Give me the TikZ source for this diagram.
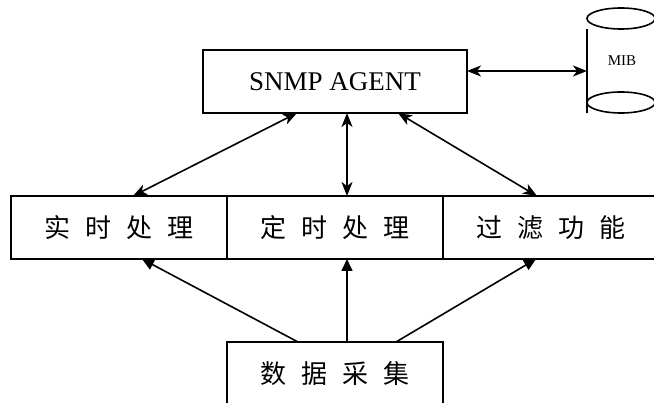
\documentclass[tikz,border=0pt]{standalone}
\usepackage{fontspec}
\setmainfont{Liberation Serif}
\newfontfamily\cjk{Noto Sans CJK SC}
\usetikzlibrary{arrows.meta}
\newcommand{\cjkgap}{\hspace{15pt}}
\begin{document}
\begin{tikzpicture}[x=1pt,y=-1pt,
  line width=1.6pt,
  box/.style={draw, rectangle, inner sep=0pt, outer sep=0pt,
    minimum width=216pt, minimum height=63pt},
  cjklabel/.style={font=\cjk\fontsize{26}{28}\selectfont},
  both/.style={{Stealth[length=14pt,width=11pt,inset=4pt]}-{Stealth[length=14pt,width=11pt,inset=4pt]}},
  up/.style={-{Triangle[length=12pt,width=11pt]}}]
\useasboundingbox (0,0) rectangle (654,403);

% agent
\node[box, minimum width=264pt, font=\fontsize{27}{30}\selectfont] (snmp) at (335,81.5) {SNMP AGENT};

% MIB store
\draw (621,18.5) ellipse [x radius=34pt, y radius=10.5pt];
\draw (587,29) -- (587,113);
\draw (655,29) -- (655,113);
\draw (621,102.5) ellipse [x radius=34pt, y radius=10.5pt];
\node[font=\fontsize{15}{17}\selectfont] (mibtext) at (622,61) {MIB};
\coordinate (mib) at (587,71);

% processing row
\node[box, cjklabel] (rt) at (119,227.5) {实\cjkgap 时\cjkgap 处\cjkgap 理};
\node[box, cjklabel] (ds) at (335,227.5) {定\cjkgap 时\cjkgap 处\cjkgap 理};
\node[box, cjklabel] (gl) at (551,227.5) {过\cjkgap 滤\cjkgap 功\cjkgap 能};

% data collection
\node[box, cjklabel] (sj) at (335,373.5) {数\cjkgap 据\cjkgap 采\cjkgap 集};

% agent links
\draw[both] ([yshift=10.5pt]snmp.east) -- (mib);
\draw[both] ([xshift=-38pt]snmp.south) -- ([xshift=14pt]rt.north);
\draw[both] ([xshift=12pt]snmp.south) -- ([xshift=12pt]ds.north);
\draw[both] ([xshift=63pt]snmp.south) -- ([xshift=-14pt]gl.north);

% data flow
\draw[up] ([xshift=-37pt]sj.north) -- ([xshift=23pt]rt.south);
\draw[up] ([xshift=12pt]sj.north) -- ([xshift=12pt]ds.south);
\draw[up] ([xshift=61pt]sj.north) -- ([xshift=-15pt]gl.south);
\end{tikzpicture}
\end{document}
